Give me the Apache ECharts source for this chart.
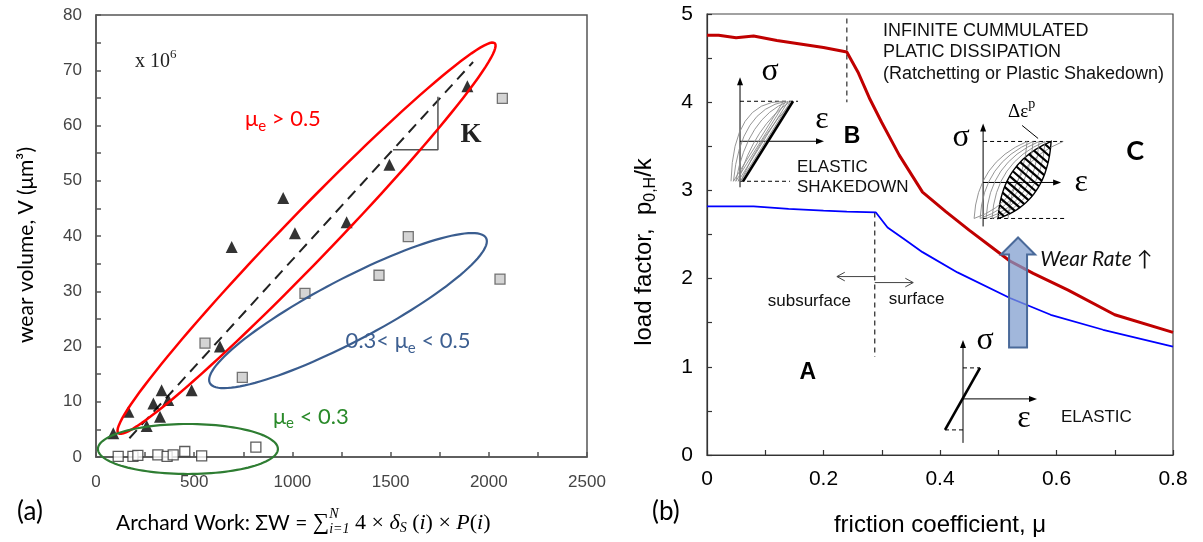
<!DOCTYPE html>
<html><head><meta charset="utf-8">
<script src="https://cdn.jsdelivr.net/npm/echarts@6/dist/echarts.min.js"></script>
<style>html,body{margin:0;padding:0;background:#fff}#c{width:1203px;height:542px}</style>
</head><body><div id="c"></div>
<script>
// ---------- Panel (a): wear volume vs Archard work ----------
const archardTicks = [0, 500, 1000, 1500, 2000, 2500];
const wearTicks = [0, 10, 20, 30, 40, 50, 60, 70, 80];
const wearTriangles = [[88,4.3],[165,8.2],[258,5.6],[292,9.7],[326,7.3],[334,12.1],[368,10.3],[487,12.1],[631,20.0],[691,38.0],[953,46.9],[1013,40.5],[1276,42.5],[1494,52.9],[1891,67.1]];
const wearGreySquares = [[555,20.6],[745,14.4],[1064,29.6],[1441,32.9],[1590,39.9],[2057,32.2],[2069,64.9]];
const wearWhiteSquares = [[113,0.1],[188,0.1],[213,0.3],[315,0.4],[362,0.1],[393,0.4],[452,1.0],[538,0.2],[814,1.8]];
const archardFit = [[170,3.4],[1920,71.5]];
const slopeK = [[1512,55.6],[1741,55.6],[1741,65.2]];

// ---------- Panel (b): shakedown map ----------
const frictionTicks = [0, 0.2, 0.4, 0.6, 0.8];
const loadTicks = [0, 1, 2, 3, 4, 5];
const plasticLimit = [[0,4.76],[0.02,4.76],[0.05,4.73],[0.08,4.75],[0.12,4.70],[0.16,4.66],[0.2,4.62],[0.24,4.57],[0.26,4.33],[0.28,4.03],[0.30,3.77],[0.33,3.40],[0.37,2.98],[0.41,2.76],[0.45,2.55],[0.49,2.35],[0.52,2.20],[0.56,2.06],[0.62,1.87],[0.70,1.59],[0.80,1.39]];
const elasticLimit = [[0,2.82],[0.08,2.82],[0.14,2.79],[0.2,2.77],[0.24,2.76],[0.29,2.75],[0.31,2.58],[0.34,2.44],[0.37,2.30],[0.43,2.07],[0.52,1.78],[0.59,1.59],[0.68,1.42],[0.8,1.23]];
const dividerB = [[0.24,4.95],[0.24,4.0]];
const dividerSurface = [[0.288,2.75],[0.288,1.11]];

const SANS = '"Liberation Sans", Arial, sans-serif';
const SERIF = '"Liberation Serif", "DejaVu Serif", serif';
const CAL = 'Lato, "Noto Sans", sans-serif';
const RED = '#ff0000', BLUE = '#3d5f91', GREEN = '#2a8a2a';

const chart = echarts.init(document.getElementById('c'), null, {renderer: 'canvas'});

function valAxis(g, ticks, o) {
  return {
    gridIndex: g, type: 'value', min: ticks[0], max: ticks[ticks.length - 1], interval: ticks[1] - ticks[0],
    splitLine: {show: false},
    axisLine: {lineStyle: {color: o.col, width: o.w}},
    axisTick: {inside: true, length: 5, lineStyle: {color: o.col, width: o.w}},
    minorTick: {show: true, splitNumber: 2, length: 5, lineStyle: {color: o.col, width: o.w}},
    axisLabel: {margin: o.margin, color: o.labCol, fontSize: o.fs, fontFamily: o.ff, formatter: v => String(+v.toFixed(2))}
  };
}

chart.setOption({
  animation: false,
  grid: [
    {left: 96, right: 616, top: 15, bottom: 85, show: true, borderColor: '#555', borderWidth: 1.5},
    {left: 707, right: 30, top: 14, bottom: 87, show: true, borderColor: '#444', borderWidth: 1.2}
  ],
  xAxis: [
    valAxis(0, archardTicks, {col: '#555', w: 1.5, margin: 17, labCol: '#444', fs: 17, ff: SANS}),
    valAxis(1, frictionTicks, {col: '#333', w: 1.2, margin: 14, labCol: '#000', fs: 21, ff: SANS})
  ],
  yAxis: [
    valAxis(0, wearTicks, {col: '#555', w: 1.5, margin: 14, labCol: '#444', fs: 17, ff: SANS}),
    valAxis(1, loadTicks, {col: '#333', w: 1.2, margin: 14, labCol: '#000', fs: 21, ff: SANS})
  ],
  series: [
    {type: 'line', xAxisIndex: 0, yAxisIndex: 0, data: archardFit, symbol: 'none', silent: true,
      lineStyle: {color: '#222', width: 2, type: [11, 7]}, z: 2},
    {type: 'line', xAxisIndex: 0, yAxisIndex: 0, data: slopeK, symbol: 'none', silent: true,
      lineStyle: {color: '#555', width: 1.5}, z: 2},
    {type: 'scatter', xAxisIndex: 0, yAxisIndex: 0, data: wearTriangles, symbol: 'triangle', symbolSize: 12,
      itemStyle: {color: '#000'}, z: 3},
    {type: 'scatter', xAxisIndex: 0, yAxisIndex: 0, data: wearGreySquares, symbol: 'rect', symbolSize: 10,
      itemStyle: {color: '#c9c9c9', borderColor: '#555', borderWidth: 1.3}, z: 3},
    {type: 'scatter', xAxisIndex: 0, yAxisIndex: 0, data: wearWhiteSquares, symbol: 'rect', symbolSize: 10,
      itemStyle: {color: '#fff', borderColor: '#333', borderWidth: 1.3}, z: 3},
    {type: 'line', xAxisIndex: 1, yAxisIndex: 1, data: plasticLimit, symbol: 'none', silent: true,
      lineStyle: {color: '#c00000', width: 3}, z: 3},
    {type: 'line', xAxisIndex: 1, yAxisIndex: 1, data: elasticLimit, symbol: 'none', silent: true,
      lineStyle: {color: '#0000ff', width: 1.8}, z: 3},
    {type: 'line', xAxisIndex: 1, yAxisIndex: 1, data: dividerB, symbol: 'none', silent: true,
      lineStyle: {color: '#555', width: 1.5, type: [5, 4]}, z: 2},
    {type: 'line', xAxisIndex: 1, yAxisIndex: 1, data: dividerSurface, symbol: 'none', silent: true,
      lineStyle: {color: '#222', width: 1.2, type: [5, 4]}, z: 2}
  ]
});

// ---------- annotation helpers ----------
const P = (g, x, y) => chart.convertToPixel({gridIndex: g}, [x, y]);
const mctx = document.createElement('canvas').getContext('2d');
const fnt = (s, fam, st, wt) => `${st || 'normal'} ${wt || 'normal'} ${s}px ${fam}`;
function T(x, y, t, o) {
  o = o || {};
  const f = o.font || fnt(o.size || 16, o.fam || SANS, o.style, o.weight);
  const al = o.align || 'left', va = o.va || 'middle';
  return {type: 'text', x: x, y: y, silent: true, z: 100, rotation: o.rot || 0,
    style: {text: t, font: f, fill: o.color || '#000', align: al, verticalAlign: va, textAlign: al, textVerticalAlign: va}};
}
function seq(x0, y0, parts, align) {
  let w = 0;
  parts.forEach(p => { p.f = fnt(p.size, p.fam, p.style, p.weight); mctx.font = p.f; p.w = p.adv === false ? 0 : mctx.measureText(p.t).width; w += p.w; });
  let x = align === 'center' ? x0 - w / 2 : (align === 'right' ? x0 - w : x0);
  const out = [];
  parts.forEach(p => { out.push(T(x, y0 + (p.dy || 0), p.t, {font: p.f, color: p.color})); x += p.w; });
  return out;
}
function L(x1, y1, x2, y2, st) {
  return {type: 'line', silent: true, z: 90, shape: {x1, y1, x2, y2}, style: Object.assign({stroke: '#000', lineWidth: 1}, st || {})};
}
function Q(x1, y1, cx, cy, x2, y2, st) {
  return {type: 'bezierCurve', silent: true, z: 90, shape: {x1, y1, x2, y2, cpx1: cx, cpy1: cy}, style: Object.assign({stroke: '#000', lineWidth: 1, fill: null}, st || {})};
}
function ellipse(c, a, b, deg, col, w) {
  const th = deg * Math.PI / 180, pts = [];
  for (let i = 0; i < 120; i++) {
    const t = i / 120 * 2 * Math.PI;
    pts.push([c[0] + a * Math.cos(t) * Math.cos(th) - b * Math.sin(t) * Math.sin(th),
              c[1] - (a * Math.cos(t) * Math.sin(th) + b * Math.sin(t) * Math.cos(th))]);
  }
  return {type: 'polygon', silent: true, z: 80, shape: {points: pts}, style: {fill: null, stroke: col, lineWidth: w}};
}
function head(x, y, dir, len, half, col) {
  const bx = x - len * Math.cos(dir), by = y - len * Math.sin(dir), nx = -Math.sin(dir), ny = Math.cos(dir);
  return {type: 'polygon', silent: true, z: 91, shape: {points: [[x, y], [bx + half * nx, by + half * ny], [bx - half * nx, by - half * ny]]}, style: {fill: col}};
}
function openHead(x, y, dir, len, col, w) {
  const a1 = dir + Math.PI - 0.5, a2 = dir + Math.PI + 0.5;
  return [L(x, y, x + len * Math.cos(a1), y + len * Math.sin(a1), {stroke: col, lineWidth: w}),
          L(x, y, x + len * Math.cos(a2), y + len * Math.sin(a2), {stroke: col, lineWidth: w})];
}
const DASH = {stroke: '#000', lineWidth: 1, lineDash: [4, 3]};

const els = [];

// ---------- panel (a) annotations ----------
els.push(ellipse(P(0, 1072, 39.6), 271, 24, 46, RED, 2.5));
els.push(ellipse(P(0, 1283, 26.5), 156, 31, 27.7, '#3a5d8f', 2.2));
els.push(ellipse(P(0, 468, 1.45), 90, 25, 0, '#2e7d32', 2.2));
let p = P(0, 199, 71.5);
els.push(...seq(p[0], p[1], [{t: 'x 10', size: 20, fam: SERIF, color: '#222'}, {t: '6', size: 13, fam: SERIF, dy: -7, color: '#222'}]));
p = P(0, 759, 61.2);
els.push(...seq(p[0], p[1], [{t: 'μ', size: 22, fam: CAL, color: RED}, {t: 'e', size: 15, fam: CAL, dy: 7, color: RED}, {t: ' > 0.5', size: 22, fam: CAL, color: RED}]));
p = P(0, 1271, 21.0);
els.push(...seq(p[0], p[1], [{t: '0.3< μ', size: 22, fam: CAL, color: BLUE}, {t: 'e', size: 15, fam: CAL, dy: 7, color: BLUE}, {t: ' < 0.5', size: 22, fam: CAL, color: BLUE}]));
p = P(0, 901, 7.33);
els.push(...seq(p[0], p[1], [{t: 'μ', size: 22, fam: CAL, color: GREEN}, {t: 'e', size: 15, fam: CAL, dy: 7, color: GREEN}, {t: ' < 0.3', size: 22, fam: CAL, color: GREEN}]));
p = P(0, 1909, 58.3);
els.push(T(p[0], p[1], 'K', {size: 27, fam: SERIF, weight: 'bold', align: 'center', color: '#222'}));

// axis title (a)
els.push(T(26, 245, 'wear volume, V (μm³)', {size: 21, fam: CAL, align: 'center', rot: Math.PI / 2}));
els.push(T(17, 512, '(a)', {size: 26, fam: CAL}));
els.push(...seq(116, 523, [
  {t: 'Archard Work: ΣW = ', size: 21, fam: CAL},
  {t: '∑', size: 23, fam: SERIF},
  {t: 'N', size: 14, fam: SERIF, style: 'italic', dy: -9, adv: false},
  {t: 'i=1', size: 14, fam: SERIF, style: 'italic', dy: 6},
  {t: ' 4 × ', size: 22, fam: SERIF},
  {t: 'δ', size: 22, fam: SERIF, style: 'italic'},
  {t: 'S', size: 14, fam: SERIF, style: 'italic', dy: 5},
  {t: ' (', size: 22, fam: SERIF},
  {t: 'i', size: 22, fam: SERIF, style: 'italic'},
  {t: ') × ', size: 22, fam: SERIF},
  {t: 'P', size: 22, fam: SERIF, style: 'italic'},
  {t: '(', size: 22, fam: SERIF},
  {t: 'i', size: 22, fam: SERIF, style: 'italic'},
  {t: ')', size: 22, fam: SERIF}
]));

// ---------- panel (b) annotations ----------
p = P(1, 0.302, 4.807); els.push(T(p[0], p[1], 'INFINITE CUMMULATED', {size: 18, fam: SANS, color: '#111'}));
p = P(1, 0.302, 4.568); els.push(T(p[0], p[1], 'PLATIC DISSIPATION', {size: 18, fam: SANS, color: '#111'}));
p = P(1, 0.302, 4.318); els.push(T(p[0], p[1], '(Ratchetting or Plastic Shakedown)', {size: 18, fam: SANS, color: '#111'}));
p = P(1, 0.249, 3.61); els.push(T(p[0], p[1], 'B', {size: 23, fam: SANS, weight: 'bold', align: 'center'}));
p = P(1, 0.1545, 3.26); els.push(T(p[0], p[1], 'ELASTIC', {size: 17, fam: SANS, color: '#111'}));
p = P(1, 0.1545, 3.03); els.push(T(p[0], p[1], 'SHAKEDOWN', {size: 17, fam: SANS, color: '#111'}));
p = P(1, 0.735, 3.44); els.push(T(p[0], p[1], 'C', {size: 27, fam: CAL, weight: 'bold', align: 'center'}));
p = P(1, 0.173, 0.93); els.push(T(p[0], p[1], 'A', {size: 23, fam: SANS, weight: 'bold', align: 'center'}));
p = P(1, 0.247, 1.74); els.push(T(p[0], p[1], 'subsurface', {size: 17, fam: SANS, align: 'right', color: '#111'}));
p = P(1, 0.312, 1.76); els.push(T(p[0], p[1], 'surface', {size: 17, fam: SANS, color: '#111'}));
p = P(1, 0.572, 2.216); els.push(T(p[0], p[1], 'Wear Rate ↑', {size: 21, fam: CAL, style: 'italic', color: '#111'}));

// subsurface / surface arrows
let a = P(1, 0.288, 2.023), b = P(1, 0.223, 2.023);
els.push(L(a[0], a[1], b[0], b[1], {stroke: '#444'}), ...openHead(b[0], b[1], Math.PI, 9, '#444', 1));
a = P(1, 0.288, 1.955); b = P(1, 0.354, 1.955);
els.push(L(a[0], a[1], b[0], b[1], {stroke: '#444'}), ...openHead(b[0], b[1], 0, 9, '#444', 1));

// big wear-rate arrow
p = P(1, 0.534, 2.466);
els.push({type: 'polygon', silent: true, z: 95, x: p[0], y: p[1],
  shape: {points: [[0, 0], [17, 17], [9, 17], [9, 110], [-9, 110], [-9, 17], [-17, 17]]},
  style: {fill: 'rgba(125,155,205,0.72)', stroke: '#4a6a9a', lineWidth: 2}});

// inset B : elastic shakedown loops
function insetB(o) {
  const c = [];
  c.push(L(0, 46, 0, -58), head(0, -64, -Math.PI / 2, 8, 3, '#000'));
  c.push(L(0, 0, 78, 0), head(84, 0, 0, 8, 3, '#000'));
  c.push(L(0, -40, 58, -40, DASH), L(0, 40, 50, 40, DASH));
  const bx = i => -9 + 12 * i / 5;
  for (let i = 0; i < 5; i++) {
    const f = i / 5, x0 = bx(i), x1 = bx(i + 1) + 50;
    const cx = (x0 + 2) * (1 - f) + ((x0 + x1) / 2) * f, cy = -40 * (1 - f);
    c.push(Q(x0, 40, cx, cy, x1, -40, {stroke: '#8a8a8a', lineWidth: 0.9}));
    c.push(L(x1, -40, bx(i + 1), 40, {stroke: '#8a8a8a', lineWidth: 0.9}));
  }
  c.push(L(3, 40, 53, -40, {stroke: '#000', lineWidth: 2.6}));
  c.push(T(30, -70, 'σ', {size: 32, fam: SERIF, align: 'center'}));
  c.push(T(82, -22, 'ε', {size: 32, fam: SERIF, align: 'center'}));
  return {type: 'group', x: o[0], y: o[1], children: c};
}
// inset C : ratchetting loops
function insetC(o) {
  const c = [];
  c.push(L(0, 44, 0, -53), head(0, -59, -Math.PI / 2, 8, 3, '#000'));
  c.push(L(0, 0, 72, 0), head(78, 0, 0, 8, 3, '#000'));
  c.push(L(0, -41, 80, -41, DASH), L(0, 36, 82, 36, DASH));
  [-24, -18, -12, -6].forEach(d => {
    c.push(Q(15 + d, 36, 18 + d, -20, 68 + d, -41, {stroke: '#8a8a8a', lineWidth: 0.9}));
    c.push(Q(15 + d, 36, 64 + d, 20, 68 + d, -41, {stroke: '#8a8a8a', lineWidth: 0.9}));
  });
  c.push(Q(25, 36, 28, -20, 80, -41, {stroke: '#8a8a8a', lineWidth: 0.9}));
  const qb = (p0, p1, p2, t) => (1 - t) * (1 - t) * p0 + 2 * (1 - t) * t * p1 + t * t * p2;
  const left = [], right = [];
  for (let k = 0; k <= 24; k++) {
    const t = k / 24;
    left.push([qb(15, 18, 68, t), qb(36, -20, -41, t)]);
    right.push([qb(15, 64, 68, t), qb(36, 20, -41, t)]);
  }
  c.push({type: 'polygon', silent: true, shape: {points: left.concat(right.slice().reverse())}, style: {fill: '#fff', stroke: '#000', lineWidth: 1.4}});
  for (let k = 1; k < 16; k++) {
    const t = k / 16;
    c.push(L(qb(15, 18, 68, t), qb(36, -20, -41, t), qb(15, 64, 68, t), qb(36, 20, -41, t), {stroke: '#000', lineWidth: 2.2}));
  }
  c.push(T(-22, -45, 'σ', {size: 32, fam: SERIF, align: 'center'}));
  c.push(T(98, 0, 'ε', {size: 32, fam: SERIF, align: 'center'}));
  c.push(...seq(25, -70, [{t: 'Δε', size: 19, fam: SERIF}, {t: 'p', size: 14, fam: SERIF, dy: -8}]));
  c.push(L(39, -57, 55, -44, {stroke: '#000', lineWidth: 1}));
  return {type: 'group', x: o[0], y: o[1], children: c};
}
// inset A : elastic
function insetA(o) {
  const c = [];
  c.push(L(0, 44, 0, -53), head(0, -59, -Math.PI / 2, 8, 3, '#000'));
  c.push(L(0, 0, 68, 0), head(74, 0, 0, 8, 3, '#000'));
  c.push(L(0, -31, 17, -31, DASH), L(-18, 31, 0, 31, DASH));
  c.push(L(-18, 31, 17, -31, {stroke: '#000', lineWidth: 2.6}));
  c.push(T(22, -58, 'σ', {size: 32, fam: SERIF, align: 'center'}));
  c.push(T(61, 20, 'ε', {size: 32, fam: SERIF, align: 'center'}));
  c.push(T(98, 18, 'ELASTIC', {size: 17, fam: SANS, color: '#111'}));
  return {type: 'group', x: o[0], y: o[1], children: c};
}
els.push(insetB(P(1, 0.0567, 3.557)), insetC(P(1, 0.474, 3.09)), insetA(P(1, 0.4395, 0.636)));

// axis titles (b)
els.push(...(function () {
  const parts = [{t: 'load factor,  p', size: 24, fam: SANS}, {t: '0,H', size: 16, fam: SANS, dy: 7}, {t: '/k', size: 24, fam: SANS}];
  const inner = seq(0, 0, parts, 'center');
  return [{type: 'group', x: 644, y: 252, rotation: Math.PI / 2, children: inner}];
})());
els.push(T(940, 525, 'friction coefficient, μ', {size: 24, fam: SANS, align: 'center'}));
els.push(T(652, 512, '(b)', {size: 26, fam: CAL}));

chart.setOption({graphic: {elements: els}});
</script></body></html>
